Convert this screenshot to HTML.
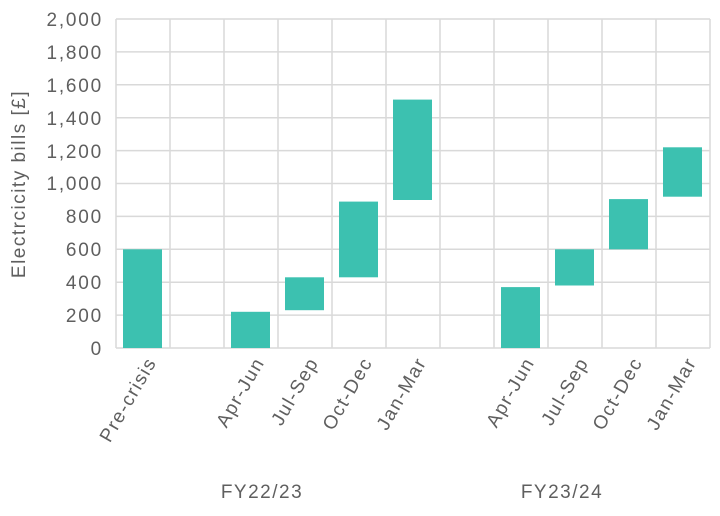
<!DOCTYPE html><html><head><style>body{margin:0;background:#fff}</style></head><body>
<svg width="720" height="511" xmlns="http://www.w3.org/2000/svg" font-family="Liberation Sans, sans-serif" fill="#5f5f5f">
<g stroke="#d9d9d9" stroke-width="1.5">
<line x1="116" y1="19" x2="710" y2="19"/><line x1="116" y1="51.9" x2="710" y2="51.9"/><line x1="116" y1="84.8" x2="710" y2="84.8"/><line x1="116" y1="117.7" x2="710" y2="117.7"/><line x1="116" y1="150.6" x2="710" y2="150.6"/><line x1="116" y1="183.5" x2="710" y2="183.5"/><line x1="116" y1="216.4" x2="710" y2="216.4"/><line x1="116" y1="249.3" x2="710" y2="249.3"/><line x1="116" y1="282.2" x2="710" y2="282.2"/><line x1="116" y1="315.1" x2="710" y2="315.1"/><line x1="116" y1="348" x2="710" y2="348"/>
<line x1="116" y1="19" x2="116" y2="348"/><line x1="170" y1="19" x2="170" y2="348"/><line x1="224" y1="19" x2="224" y2="348"/><line x1="278" y1="19" x2="278" y2="348"/><line x1="332" y1="19" x2="332" y2="348"/><line x1="386" y1="19" x2="386" y2="348"/><line x1="440" y1="19" x2="440" y2="348"/><line x1="494" y1="19" x2="494" y2="348"/><line x1="548" y1="19" x2="548" y2="348"/><line x1="602" y1="19" x2="602" y2="348"/><line x1="656" y1="19" x2="656" y2="348"/><line x1="710" y1="19" x2="710" y2="348"/>
</g>
<g fill="#3cc1b0">
<rect x="123" y="249.3" width="39" height="98.7"/>
<rect x="231" y="311.8" width="39" height="36.2"/>
<rect x="285" y="277.3" width="39" height="32.9"/>
<rect x="339" y="201.6" width="39" height="75.7"/>
<rect x="393" y="99.6" width="39" height="100.4"/>
<rect x="501" y="287.1" width="39" height="60.9"/>
<rect x="555" y="249.3" width="39" height="36.2"/>
<rect x="609" y="199.1" width="39" height="50.2"/>
<rect x="663" y="147.3" width="39" height="49.4"/>
</g>
<g font-size="19" text-anchor="end" letter-spacing="1.8">
<text x="103" y="26">2,000</text><text x="103" y="59">1,800</text><text x="103" y="92">1,600</text><text x="103" y="125">1,400</text><text x="103" y="158">1,200</text><text x="103" y="190">1,000</text><text x="103" y="223">800</text><text x="103" y="256">600</text><text x="103" y="289">400</text><text x="103" y="322">200</text><text x="103" y="355">0</text>
</g>
<text transform="translate(25,184) rotate(-90)" font-size="19" text-anchor="middle" letter-spacing="1.5">Electrcicity bills [£]</text>
<g font-size="19" text-anchor="end" letter-spacing="1.5">
<text transform="translate(157,362) rotate(-60)">Pre-crisis</text>
<text transform="translate(265,362) rotate(-60)">Apr-Jun</text>
<text transform="translate(319,362) rotate(-60)">Jul-Sep</text>
<text transform="translate(373,362) rotate(-60)">Oct-Dec</text>
<text transform="translate(427,362) rotate(-60)">Jan-Mar</text>
<text transform="translate(535,362) rotate(-60)">Apr-Jun</text>
<text transform="translate(589,362) rotate(-60)">Jul-Sep</text>
<text transform="translate(643,362) rotate(-60)">Oct-Dec</text>
<text transform="translate(697,362) rotate(-60)">Jan-Mar</text>
</g>
<g font-size="19" text-anchor="middle" letter-spacing="1.5">
<text x="262" y="498">FY22/23</text><text x="562" y="498">FY23/24</text>
</g>
</svg>
</body></html>
